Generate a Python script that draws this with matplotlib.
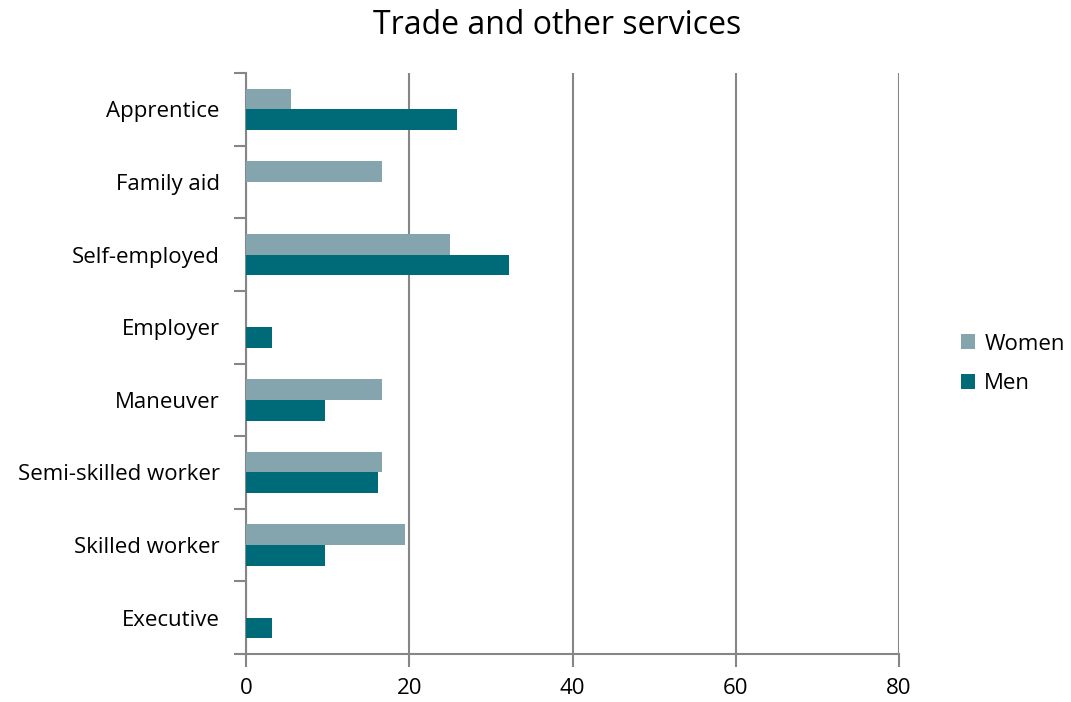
import matplotlib
matplotlib.use("Agg")
import matplotlib.pyplot as plt
import numpy as np

categories = ["Apprentice", "Family aid", "Self-employed", "Employer", "Maneuver",
              "Semi-skilled worker", "Skilled worker", "Executive"]
women = [5.56, 16.67, 25.0, 0, 16.67, 16.67, 19.44, 0]
men = [25.81, 0, 32.26, 3.23, 9.68, 16.13, 9.68, 3.23]
xticks = [0, 20, 40, 60, 80]

plt.rcParams['font.family'] = ['Open Sans', 'DejaVu Sans']
c_w = "#84A5AD"
c_m = "#006B78"
grey = "#868686"

fig = plt.figure(figsize=(10.71, 7.02), dpi=100)
ax = fig.add_axes([246/1071, 1-654/702, (899-246)/1071, (654-73)/702])

y = np.arange(len(categories))
h = 0.2857
ax.barh(y - h/2, women, height=h, color=c_w, label="Women", zorder=3)
ax.barh(y + h/2, men, height=h, color=c_m, label="Men", zorder=3)

ax.set_ylim(len(categories) - 0.5, -0.5)
ax.set_xlim(0, 80)
ax.set_xticks(xticks)
ax.set_xticklabels([str(t) for t in xticks], fontsize=16)
ax.set_yticks(y)
ax.set_yticklabels(categories, fontsize=16)
ax.tick_params(axis='y', length=0, pad=19)
ax.set_yticks(np.arange(len(categories) + 1) - 0.5, minor=True)
ax.tick_params(axis='y', which='minor', length=9, width=1.5, color=grey, direction='out')
ax.tick_params(axis='x', length=9, width=1.5, color=grey, direction='out', pad=8)
ax.xaxis.grid(True, color=grey, linewidth=1.5, zorder=0)
for s in ['top', 'right']:
    ax.spines[s].set_visible(False)
for s in ['left', 'bottom']:
    ax.spines[s].set_color(grey)
    ax.spines[s].set_linewidth(1.5)

fig.text(557/1071, 1-25/702, "Trade and other services", ha='center', va='center', fontsize=23)

handles, labels = ax.get_legend_handles_labels()
fig.legend(handles, labels, loc='center left', bbox_to_anchor=(961/1071, 1-364/702),
           frameon=False, fontsize=16, handlelength=0.65, handleheight=0.65,
           handletextpad=0.4, labelspacing=0.85, borderpad=0, borderaxespad=0)

fig.savefig("out.png", dpi=100)
